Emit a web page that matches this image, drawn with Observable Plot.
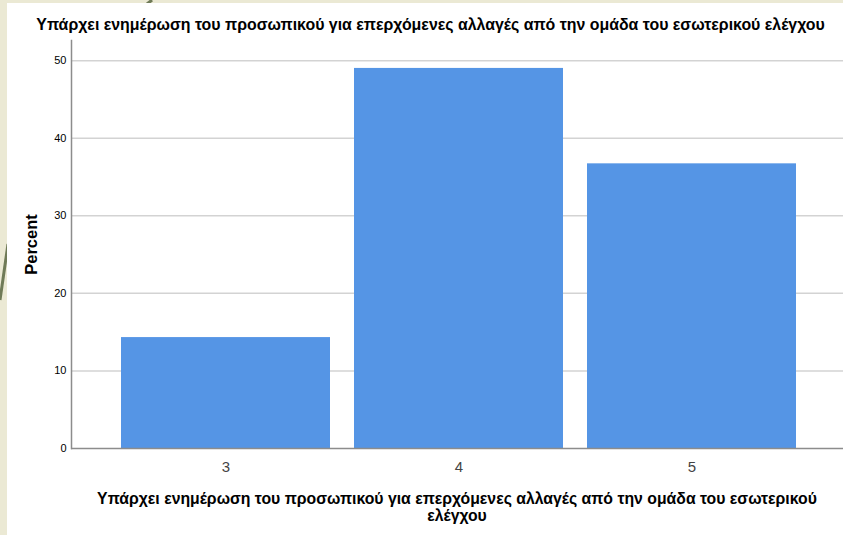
<!DOCTYPE html>
<html><head><meta charset="utf-8">
<script src="https://cdn.jsdelivr.net/npm/d3@7"></script>
<script src="https://cdn.jsdelivr.net/npm/@observablehq/plot@0.6"></script>
<style>
body{margin:0;width:843px;height:535px;overflow:hidden;background:#ebe9d4;font-family:"Liberation Sans",Arial,sans-serif;position:relative}
#deco{position:absolute;left:0;top:0}
#panel{position:absolute;left:7px;top:3px;right:0;bottom:0;background:#fff}
#title{position:absolute;left:0;top:17px;width:843px;padding-left:18px;box-sizing:border-box;text-align:center;font-weight:bold;font-size:15.9px;line-height:16px;color:#000;white-space:nowrap}
#chart{position:absolute;left:0;top:40px}
#xlabel{position:absolute;left:71px;width:772px;top:490px;text-align:center;font-weight:bold;font-size:15.8px;line-height:17px;color:#000;white-space:nowrap}
</style>
</head><body>
<svg id="deco" width="843" height="535"><line x1="0" y1="300" x2="8" y2="244" stroke="#6f7a57" stroke-width="3"/><line x1="147" y1="4" x2="152" y2="0" stroke="#6f7a57" stroke-width="3"/></svg>
<div id="panel"></div>
<div id="title">Υπάρχει ενημέρωση του προσωπικού για επερχόμενες αλλαγές από την ομάδα του εσωτερικού ελέγχου</div>
<div id="chart"></div>
<div id="xlabel">Υπάρχει ενημέρωση του προσωπικού για επερχόμενες αλλαγές από την ομάδα του εσωτερικού<br>ελέγχου</div>
<script>
const categories = ["3", "4", "5"];
const percents = [14.3, 49.0, 36.7];
const yTicks = [0, 10, 20, 30, 40, 50];
const gridTicks = [10, 20, 30, 40, 50];
const yLabel = "Percent";

const data = categories.map((c, i) => ({category: c, percent: percents[i]}));

const chart = Plot.plot({
  width: 843,
  height: 445,
  marginLeft: 71,
  marginRight: 0,
  marginTop: 0,
  marginBottom: 37,
  style: {fontFamily: "Liberation Sans, Arial, sans-serif", background: "transparent", overflow: "visible"},
  x: {domain: categories, paddingInner: 0.103, paddingOuter: 0.208, align: 0.515, label: null},
  y: {domain: [0, 52.6], label: null},
  marks: [
    Plot.gridY(gridTicks, {stroke: "#d3d3d3", strokeOpacity: 1, strokeWidth: 1.5}),
    Plot.barY(data, {x: "category", y: "percent", fill: "#5595e5"}),
    Plot.frame({anchor: "left", stroke: "#8c8c8c", strokeWidth: 1.5}),
    Plot.ruleY([0], {stroke: "#8c8c8c", strokeWidth: 1.5}),
    Plot.axisY(yTicks, {tickSize: 0, tickPadding: 5, fontSize: 11, fill: "#000", label: null}),
    Plot.axisX({tickSize: 0, tickPadding: 13, fontSize: 15, fill: "#444", label: null}),
    Plot.text([yLabel], {text: d => d, frameAnchor: "left", textAnchor: "middle", dx: -40, rotate: -90, fontWeight: "bold", fontSize: 16.5, fill: "#000"})
  ]
});
document.getElementById("chart").appendChild(chart);
</script>
</body></html>
